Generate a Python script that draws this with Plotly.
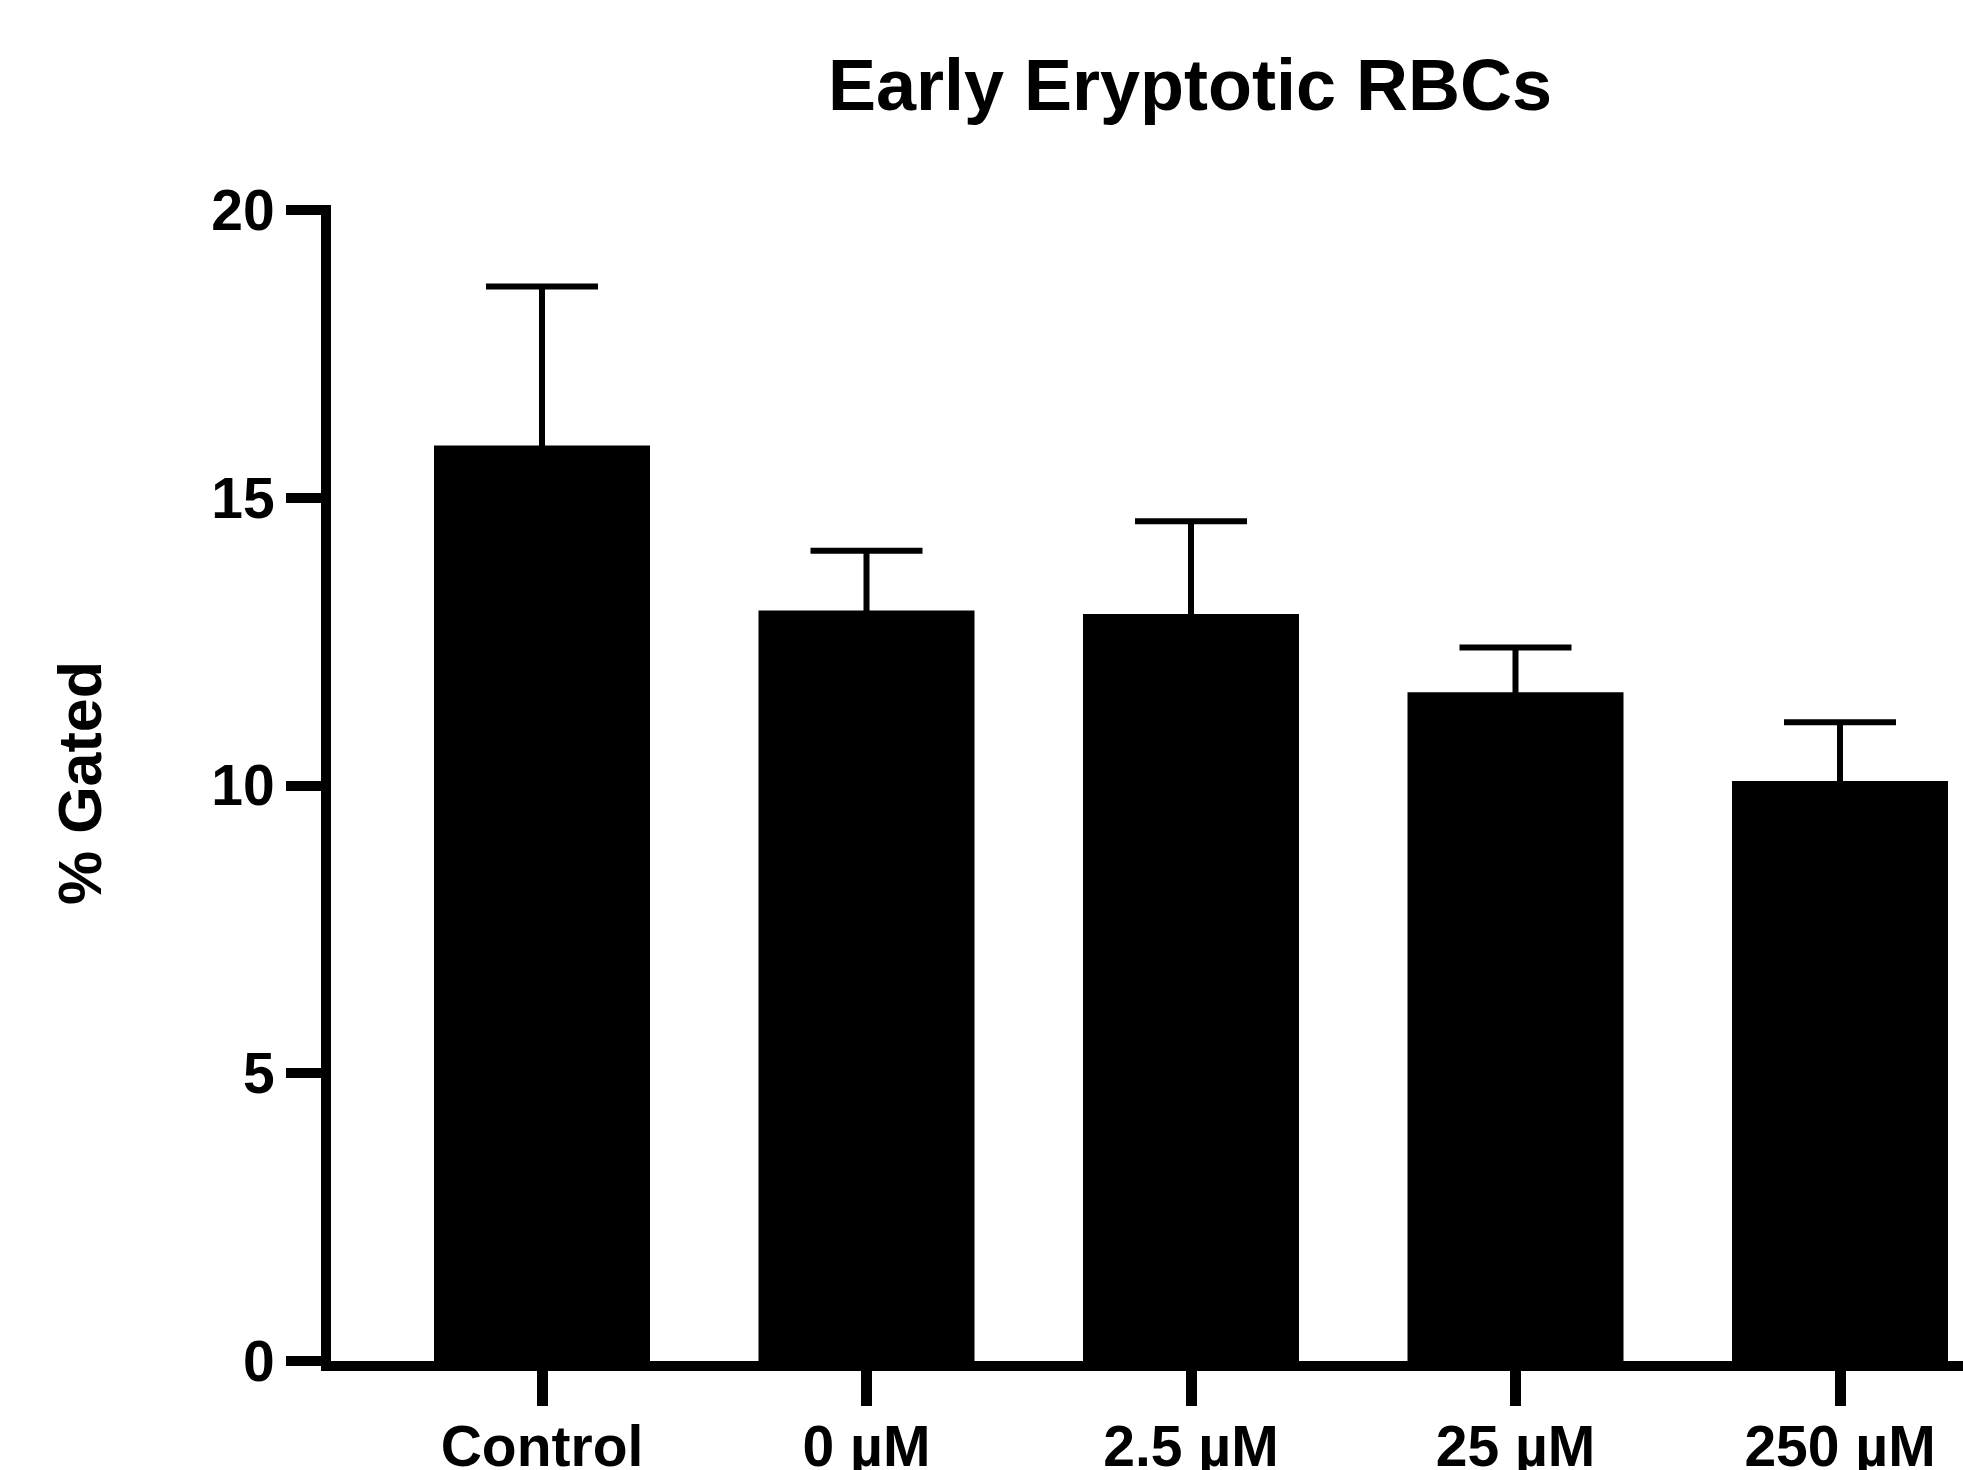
import plotly.graph_objects as go

categories = ["Control", "0 µM", "2.5 µM", "25 µM", "250 µM"]
means = [15.91, 13.04, 12.98, 11.62, 10.08]
err_up = [2.76, 1.04, 1.61, 0.78, 1.02]
y_ticks = [0, 5, 10, 15, 20]

FONT = "Liberation Sans, Arial, sans-serif"

fig = go.Figure()
fig.add_trace(go.Bar(
    x=list(range(len(categories))),
    y=means,
    marker=dict(color="black", line=dict(width=0)),
    # symmetric bars: the lower half is hidden inside the black bar
    error_y=dict(type="data", symmetric=True, array=err_up,
                 color="black", thickness=6, width=56),
    showlegend=False,
))

W, H = 1963, 1470
L, T, B = 331, 205, 1361
pxu = (B - 210) / 20.0
y_lo = 0
y_hi = 20 + (210 - T) / pxu
sp = 324.5
x_lo = (L - 542) / sp
x_hi = (W - 542) / sp

fig.update_layout(
    width=W, height=H,
    margin=dict(l=L, r=0, t=T, b=H - B, pad=0),
    paper_bgcolor="white", plot_bgcolor="white",
    bargap=1 - 216 / sp,
    font=dict(family=FONT, color="black"),
    title=dict(text="<b>Early Eryptotic RBCs</b>", font=dict(size=72, family=FONT, color="black"),
               xref="container", yref="container", x=1190 / W, xanchor="center",
               y=1 - 85 / H, yanchor="middle"),
)
fig.update_xaxes(
    range=[x_lo, x_hi], tickmode="array", tickvals=list(range(len(categories))),
    ticktext=["<b>%s</b>" % c for c in categories],
    showline=True, linecolor="black", linewidth=10,
    ticks="outside", ticklen=35, tickwidth=11, tickcolor="black",
    tickfont=dict(size=57, family=FONT, color="black"),
    showgrid=False, zeroline=False, ticklabelstandoff=-8, automargin=False,
)
fig.update_yaxes(
    range=[y_lo, y_hi], tickmode="array", tickvals=y_ticks,
    ticktext=["<b>%d</b>" % v for v in y_ticks],
    showline=True, linecolor="black", linewidth=10,
    ticks="outside", ticklen=35, tickwidth=10, tickcolor="black",
    tickfont=dict(size=57, family=FONT, color="black"),
    showgrid=False, zeroline=False, ticklabelstandoff=0, automargin=False,
    title=dict(text="<b>% Gated</b>", font=dict(size=61, family=FONT, color="black"), standoff=94),
)
fig.write_html("out.html")
